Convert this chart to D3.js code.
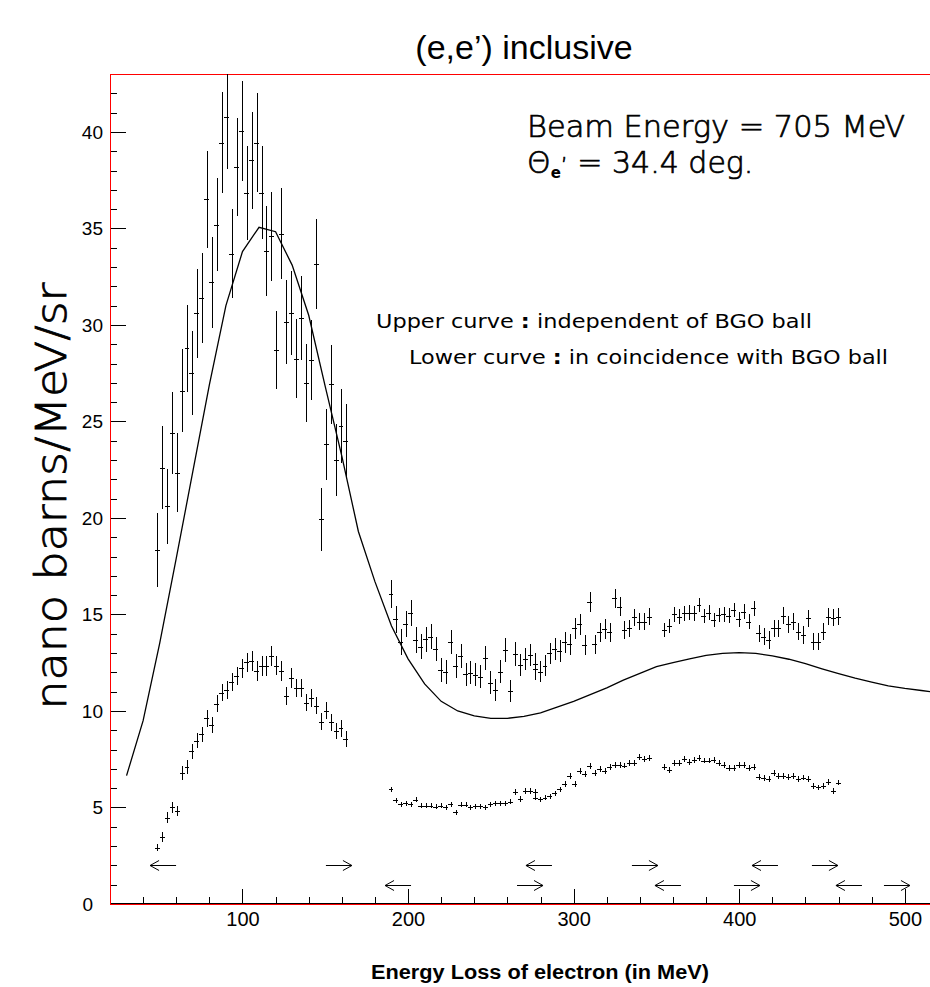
<!DOCTYPE html>
<html>
<head>
<meta charset="utf-8">
<script src="https://cdn.jsdelivr.net/npm/d3@7"></script>
<style>
  html, body { margin: 0; padding: 0; background: #fff; }
  svg { display: block; }
</style>
</head>
<body>
<svg id="chart" width="930" height="987"></svg>
<script>
// ---- energy bins (MeV) for the first spectrometer setting ----
const energy1 = [48.5, 51.5, 54.5, 57.5, 60.5, 63.5, 66.5, 69.5, 72.5, 75.5,
  78.5, 81.5, 84.5, 87.5, 90.5, 93.5, 96.5, 99.5, 102.5, 105.5,
  108.5, 111.5, 114.5, 117.5, 120.5, 123.5, 126.5, 129.5, 132.5, 135.5,
  138.5, 141.5, 144.5, 147.5, 150.5, 153.5, 156.5, 159.5, 162.5];

// independent of BGO ball
const upper1 = [18.34, 22.6, 20.6, 24.4, 22.35, 26.6, 28.8, 27.5, 30.6, 31.4,
  36.5, 32.2, 35.2, 39.45, 40.76, 33.7, 38.2, 40.03, 36.84, 38.53,
  39.45, 36.86, 33.83, 34.6, 28.7, 34.73, 30.17, 30.62, 28.26, 30.34,
  26.98, 28.19, 33.16, 19.93, 23.82, 26.92, 23.0, 24.77, 23.99];
const upper1Err = [1.9, 2.14, 1.95, 2.14, 2.05, 2.16, 2.25, 2.16, 2.3, 2.33,
  2.53, 2.35, 2.43, 2.6, 2.7, 2.3, 2.54, 2.59, 2.43, 2.5,
  2.55, 2.43, 2.32, 2.3, 2.02, 2.35, 2.18, 2.18, 2.07, 2.18,
  2.02, 2.09, 2.35, 1.62, 1.84, 2.05, 1.86, 1.92, 1.9];

// in coincidence with BGO ball
const lower1 = [2.92, 3.45, 4.47, 5.01, 4.82, 6.77, 7.1, 7.91, 8.46, 8.79,
  9.62, 9.27, 10.38, 10.95, 11.09, 11.52, 11.83, 12.21, 12.52, 12.57,
  12.09, 12.33, 12.35, 12.87, 12.35, 12.07, 10.78, 11.71, 11.21, 11.21,
  10.43, 10.67, 10.27, 9.45, 10.02, 9.41, 8.96, 9.1, 8.55];
const lower1Err = [0.2, 0.26, 0.28, 0.28, 0.28, 0.36, 0.36, 0.38, 0.38, 0.4,
  0.45, 0.4, 0.45, 0.45, 0.47, 0.47, 0.47, 0.5, 0.5, 0.52,
  0.52, 0.5, 0.52, 0.52, 0.5, 0.5, 0.47, 0.5, 0.47, 0.47,
  0.45, 0.47, 0.45, 0.43, 0.45, 0.43, 0.43, 0.43, 0.43];

// ---- energy bins (MeV) for the higher settings ----
const energy2 = [189.7, 192.7, 195.7, 198.7, 201.7, 204.7, 207.7, 210.7, 213.7, 216.7,
  219.7, 222.7, 225.7, 228.7, 231.7, 234.7, 237.7, 240.7, 243.7, 246.7,
  249.7, 252.7, 255.7, 258.7, 261.7, 264.7, 267.7, 270.7, 273.7, 276.7,
  276.7, 279.7, 282.7, 285.7, 288.7, 291.7, 294.7, 297.7, 300.7, 303.7,
  306.7, 309.7, 312.7, 315.7, 318.7, 321.7, 324.7, 327.7, 330.7, 333.7,
  336.7, 339.7, 342.7, 345.7,
  354.7, 357.7, 360.7, 363.7, 366.7, 369.7, 372.7, 375.7, 378.7, 381.7,
  384.7, 387.7, 390.7, 393.7, 396.7, 399.7, 402.7, 405.7, 408.7, 411.7,
  414.7, 417.7, 420.7, 423.7, 426.7, 429.7, 432.7, 435.7, 438.7, 441.7,
  444.7, 447.7, 450.7, 453.7, 456.7, 459.7];

const upper2 = [16.06, 14.75, 13.56, 14.49, 15.06, 13.68, 13.33, 13.71, 13.85, 13.21,
  12.12, 12.0, 13.59, 12.33, 12.85, 11.9, 11.98, 11.87, 11.78, 12.73,
  11.47, 11.09, 12.04, 13.16, 11.04, 12.95, 12.38, 12.68, 12.9, 12.42,
  12.18, 12.04, 12.35, 12.99, 13.21, 13.11, 13.56, 13.46, 14.28, 14.49,
  13.42, 15.66, 13.46, 14.08, 14.25, 14.08, 15.84, 15.4, 14.2, 14.28,
  14.85, 14.63, 14.63, 14.89,
  14.2, 14.42, 15.01, 14.89, 15.06, 15.09, 15.06, 15.49, 14.92, 15.09,
  14.72, 14.97, 15.01, 14.94, 15.23, 14.75, 15.15, 14.63, 15.32, 14.02,
  13.85, 13.68, 14.28, 14.28, 14.94, 14.49, 14.63, 14.11, 13.94, 14.8,
  13.59, 13.59, 14.11, 14.89, 14.84, 14.89];
const upper2Err = [0.72, 0.7, 0.68, 0.68, 0.68, 0.66, 0.66, 0.65, 0.65, 0.64,
  0.62, 0.62, 0.63, 0.62, 0.62, 0.6, 0.6, 0.6, 0.6, 0.62,
  0.6, 0.58, 0.6, 0.62, 0.58, 0.6, 0.58, 0.58, 0.58, 0.56,
  0.56, 0.55, 0.55, 0.55, 0.55, 0.55, 0.55, 0.55, 0.55, 0.55,
  0.52, 0.52, 0.5, 0.5, 0.5, 0.5, 0.48, 0.48, 0.45, 0.45,
  0.45, 0.45, 0.45, 0.45,
  0.36, 0.36, 0.38, 0.38, 0.38, 0.38, 0.38, 0.38, 0.38, 0.38,
  0.38, 0.38, 0.38, 0.38, 0.38, 0.38, 0.38, 0.38, 0.4, 0.45,
  0.45, 0.45, 0.45, 0.45, 0.45, 0.45, 0.45, 0.45, 0.45, 0.45,
  0.45, 0.45, 0.45, 0.45, 0.45, 0.45];

const lower2 = [5.94, 5.37, 5.16, 5.23, 5.16, 5.39, 5.09, 5.09, 5.09, 5.04,
  5.09, 5.01, 5.16, 4.75, 5.13, 5.13, 5.01, 5.06, 5.06, 5.01,
  5.16, 5.21, 5.23, 5.23, 5.3, 5.8, 5.44, 5.85, 5.85, 5.8,
  5.51, 5.42, 5.51, 5.58, 5.73, 5.94, 6.22, 6.63, 6.22, 6.89,
  6.72, 7.15, 6.8, 7.01, 6.87, 7.08, 7.2, 7.2, 7.17, 7.29,
  7.29, 7.63, 7.5, 7.55,
  7.08, 6.94, 7.29, 7.32, 7.5, 7.37, 7.46, 7.55, 7.43, 7.43,
  7.46, 7.32, 7.2, 7.06, 7.06, 7.2, 7.2, 7.03, 7.08, 6.6,
  6.51, 6.49, 6.77, 6.65, 6.65, 6.6, 6.63, 6.46, 6.55, 6.46,
  6.11, 6.04, 6.11, 6.34, 5.87, 6.29];
const lower2Err = [0.14, 0.13, 0.13, 0.13, 0.13, 0.13, 0.13, 0.13, 0.13, 0.13,
  0.13, 0.13, 0.13, 0.13, 0.13, 0.13, 0.13, 0.13, 0.13, 0.13,
  0.13, 0.13, 0.13, 0.13, 0.13, 0.14, 0.14, 0.14, 0.14, 0.14,
  0.14, 0.14, 0.14, 0.14, 0.14, 0.14, 0.15, 0.15, 0.15, 0.15,
  0.15, 0.15, 0.15, 0.15, 0.15, 0.15, 0.15, 0.15, 0.15, 0.15,
  0.15, 0.15, 0.15, 0.15,
  0.15, 0.15, 0.15, 0.15, 0.15, 0.15, 0.15, 0.15, 0.15, 0.15,
  0.15, 0.15, 0.15, 0.15, 0.15, 0.15, 0.15, 0.15, 0.15, 0.15,
  0.15, 0.15, 0.15, 0.15, 0.15, 0.15, 0.15, 0.15, 0.15, 0.15,
  0.15, 0.15, 0.15, 0.15, 0.15, 0.15];

// ---- model curve ----
const theoryEnergy = [30, 40, 50, 60, 70, 80, 90, 100, 110, 120,
  130, 140, 150, 160, 170, 180, 190, 200, 210, 220,
  230, 240, 250, 260, 270, 280, 290, 300, 310, 320,
  330, 340, 350, 360, 370, 380, 390, 400, 410, 420,
  430, 440, 450, 460, 470, 480, 490, 500, 510, 520];
const theoryValue = [6.65, 9.5, 13.5, 17.9, 22.4, 26.9, 31.0, 33.8, 35.06, 34.83,
  33.1, 30.5, 26.8, 23.2, 19.3, 16.7, 14.4, 12.7, 11.4, 10.5,
  10.0, 9.75, 9.62, 9.62, 9.72, 9.9, 10.2, 10.5, 10.85, 11.2,
  11.6, 11.95, 12.3, 12.5, 12.7, 12.88, 12.98, 13.02, 12.98, 12.85,
  12.68, 12.45, 12.18, 11.93, 11.7, 11.5, 11.3, 11.17, 11.06, 10.95];

// ---- spectrometer acceptance limits (MeV) and the row each pair sits on ----
const settingLow  = [44.2, 186.1, 271.2, 349.1, 407.7, 458.4];
const settingHigh = [166.1, 281.5, 350.9, 412.5, 459.6, 503.1];
const settingRow  = [2, 1, 2, 1, 2, 1];

// ---- axis ticks ----
const xMajorTicks = [100, 200, 300, 400, 500];
const yMajorTicks = [0, 5, 10, 15, 20, 25, 30, 35, 40];

// ---------------- drawing ----------------
const svg = d3.select("#chart");
const plotL = 110, plotR = 930, plotT = 74, plotB = 904;

const x = d3.scaleLinear().domain([20, 515.2]).range([plotL, plotR]);
const y = d3.scaleLinear().domain([0, 43]).range([plotB, plotT]);

svg.append("rect").attr("width", 930).attr("height", 987).attr("fill", "#fff");

svg.append("defs").append("clipPath").attr("id", "plotClip")
  .append("rect").attr("x", plotL).attr("y", plotT)
  .attr("width", plotR - plotL).attr("height", plotB - plotT);

const labelFont = "'Liberation Sans', Arial, Helvetica, sans-serif";
const textFont = "'DejaVu Sans', 'Noto Sans', sans-serif";

// x axis: major ticks with labels, minor ticks every 20 MeV
const xMinor = d3.range(40, 520, 20).filter(v => !xMajorTicks.includes(v));
svg.append("g").attr("transform", `translate(0,${plotB})`)
  .call(d3.axisBottom(x).tickValues(xMinor).tickSize(-7).tickFormat(""))
  .call(g => g.select(".domain").remove());
svg.append("g").attr("transform", `translate(0,${plotB})`)
  .call(d3.axisBottom(x).tickValues(xMajorTicks).tickSize(-15).tickPadding(8))
  .call(g => g.select(".domain").remove())
  .call(g => g.selectAll("text").attr("font-family", labelFont).attr("font-size", 20).attr("fill", "#000"));

// y axis: major ticks with labels, minor ticks every 1 unit
const yMinor = d3.range(1, 43, 1).filter(v => v % 5 !== 0);
svg.append("g").attr("transform", `translate(${plotL},0)`)
  .call(d3.axisLeft(y).tickValues(yMinor).tickSize(-7).tickFormat(""))
  .call(g => g.select(".domain").remove());
svg.append("g").attr("transform", `translate(${plotL},0)`)
  .call(d3.axisLeft(y).tickValues(yMajorTicks).tickSize(-16).tickPadding(7))
  .call(g => g.select(".domain").remove())
  .call(g => g.selectAll("text").attr("font-family", labelFont).attr("font-size", 19).attr("fill", "#000"))
  .call(g => g.selectAll(".tick").filter(d => d === 0).select("text").attr("dx", -10));

svg.selectAll(".tick line").attr("stroke", "#000").attr("stroke-width", 1).attr("shape-rendering", "crispEdges");

// frame
const frame = svg.append("g").attr("shape-rendering", "crispEdges");
frame.append("line").attr("x1", plotL).attr("x2", plotR).attr("y1", plotB - 1).attr("y2", plotB - 1).attr("stroke", "#000");
frame.append("line").attr("x1", plotL).attr("x2", plotR).attr("y1", plotB).attr("y2", plotB).attr("stroke", "#ff0000");
frame.append("line").attr("x1", plotL).attr("x2", plotR).attr("y1", plotT).attr("y2", plotT).attr("stroke", "#ff0000");
frame.append("line").attr("x1", plotL).attr("x2", plotL).attr("y1", plotT).attr("y2", plotB).attr("stroke", "#ff0000");

const plot = svg.append("g").attr("clip-path", "url(#plotClip)");

// model curve
const line = d3.line().x((d, i) => x(theoryEnergy[i])).y(d => y(d));
plot.append("path").datum(theoryValue)
  .attr("d", line).attr("fill", "none").attr("stroke", "#000").attr("stroke-width", 1.3);

// data points with vertical error bars and bin-width ticks
function drawPoints(energy, values, errs) {
  const pts = energy.map((e, i) => ({ e, v: values[i], err: errs[i] }));
  const g = plot.append("g").attr("stroke", "#000").attr("stroke-width", 1.2).attr("shape-rendering", "crispEdges");
  g.selectAll(null).data(pts).join("line")
    .attr("x1", d => Math.round(x(d.e)) + 0.5).attr("x2", d => Math.round(x(d.e)) + 0.5)
    .attr("y1", d => y(d.v - d.err)).attr("y2", d => y(d.v + d.err));
  g.selectAll(null).data(pts).join("line")
    .attr("x1", d => x(d.e - 1.5)).attr("x2", d => x(d.e + 1.5))
    .attr("y1", d => Math.round(y(d.v)) + 0.5).attr("y2", d => Math.round(y(d.v)) + 0.5);
}
drawPoints(energy1, upper1, upper1Err);
drawPoints(energy1, lower1, lower1Err);
drawPoints(energy2, upper2, upper2Err);
drawPoints(energy2, lower2, lower2Err);

// acceptance arrows: low limit points left, high limit points right
const arrowLen = 26, headLen = 9, headHalf = 5;
const arrows = [];
settingLow.forEach((v, i) => arrows.push({ tip: v, dir: -1, row: settingRow[i] }));
settingHigh.forEach((v, i) => arrows.push({ tip: v, dir: 1, row: settingRow[i] }));
const ag = svg.append("g").attr("stroke", "#000").attr("stroke-width", 1).attr("fill", "none");
ag.selectAll(null).data(arrows).join("path")
  .attr("d", d => {
    const tx = x(d.tip), ty = Math.round(y(d.row)) + 0.5;
    const tail = tx - d.dir * arrowLen;
    const hb = tx - d.dir * headLen;
    return `M${tail},${ty}L${tx},${ty}M${hb},${ty - headHalf}L${tx},${ty}L${hb},${ty + headHalf}`;
  });

// title
svg.append("text").attr("x", 524).attr("y", 59).attr("text-anchor", "middle")
  .attr("font-family", labelFont).attr("font-size", 34).text("(e,e\u2019) inclusive");

// axis titles
svg.append("text").attr("x", 540).attr("y", 979).attr("text-anchor", "middle")
  .attr("font-family", labelFont).attr("font-weight", "bold").attr("font-size", 20)
  .attr("textLength", 338).attr("lengthAdjust", "spacingAndGlyphs")
  .text("Energy Loss of electron (in MeV)");

svg.append("text").attr("transform", "translate(66,496) rotate(-90)").attr("text-anchor", "middle")
  .attr("font-family", textFont).attr("font-size", 42).attr("font-weight", 200)
  .attr("stroke", "#000").attr("stroke-width", 0.8)
  .attr("textLength", 427).attr("lengthAdjust", "spacingAndGlyphs")
  .text("nano barns/MeV/sr");

// annotations
svg.append("text").attr("x", 527).attr("y", 137)
  .attr("font-family", textFont).attr("font-size", 30).attr("font-weight", 200)
  .attr("stroke", "#000").attr("stroke-width", 0.7)
  .attr("textLength", 378).attr("lengthAdjust", "spacingAndGlyphs")
  .text("Beam Energy = 705 MeV");

const theta = svg.append("text").attr("x", 527).attr("y", 173)
  .attr("font-family", textFont).attr("font-size", 30).attr("font-weight", 200)
  .attr("stroke", "#000").attr("stroke-width", 0.7);
theta.append("tspan").text("\u0398");
theta.append("tspan").attr("font-size", 15).attr("font-weight", "bold").attr("stroke-width", 0).attr("dy", 5).text("e");
theta.append("tspan").attr("font-size", 22).attr("dy", -5).text("\u2019");
theta.append("tspan").text(" = 34.4 deg.");

function noteLine(xp, yp, width, head, tail) {
  const t = svg.append("text").attr("x", xp).attr("y", yp)
    .attr("font-family", textFont).attr("font-size", 19)
    .attr("textLength", width).attr("lengthAdjust", "spacingAndGlyphs");
  t.append("tspan").text(head + " ");
  t.append("tspan").attr("font-weight", "bold").text(":");
  t.append("tspan").text(" " + tail);
}
noteLine(376, 328, 436, "Upper curve", "independent of BGO ball");
noteLine(409, 364, 479, "Lower curve", "in coincidence with BGO ball");
</script>
</body>
</html>
